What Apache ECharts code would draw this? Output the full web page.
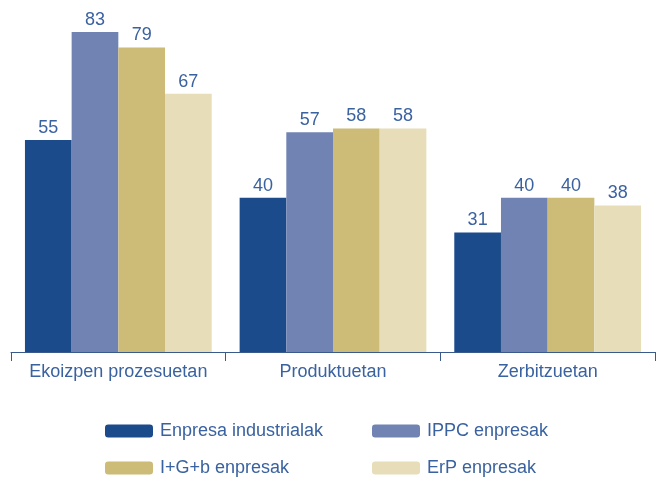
<!DOCTYPE html>
<html>
<head>
<meta charset="utf-8">
<script src="https://cdn.jsdelivr.net/npm/echarts@6/dist/echarts.min.js"></script>
<style>
  html, body { margin: 0; padding: 0; background: #fff; }
</style>
</head>
<body>
<div id="chart" style="width: 659px; height: 477px"></div>
<script>
// data
const categories = ["Ekoizpen prozesuetan", "Produktuetan", "Zerbitzuetan"];
const seriesNames = ["Enpresa industrialak", "IPPC enpresak", "I+G+b enpresak", "ErP enpresak"];
const industrialak = [55, 40, 31];
const ippc = [83, 57, 40];
const igb = [79, 58, 40];
const erp = [67, 58, 38];

const colors = ["#1b4b8b", "#7083b3", "#ccbc77", "#e7ddb9"];
const textColor = "#3a62a0";
const font = "Liberation Sans, Arial, sans-serif";

const values = [industrialak, ippc, igb, erp];

// one legend per item so the two columns line up
const legendPos = [
  { left: 105, top: 422 },
  { left: 372, top: 422 },
  { left: 105, top: 459 },
  { left: 372, top: 459 }
];

const option = {
  animation: false,
  color: colors,
  grid: { left: 11, right: 4, top: 32, bottom: 125, containLabel: false },
  legend: seriesNames.map((name, i) => ({
    data: [name],
    left: legendPos[i].left,
    top: legendPos[i].top,
    padding: 0,
    icon: "roundRect",
    itemWidth: 48,
    itemHeight: 13,
    itemGap: 0,
    textStyle: { color: textColor, fontSize: 18, fontFamily: font, padding: [0, 0, 0, 2] }
  })),
  xAxis: {
    type: "category",
    data: categories,
    axisLine: { lineStyle: { color: "#3a5a8e", width: 1 } },
    axisTick: { show: true, interval: 0, length: 9, inside: false, lineStyle: { color: "#3a5a8e" } },
    axisLabel: { interval: 0, hideOverlap: false, color: textColor, fontSize: 18, fontFamily: font, margin: 11 }
  },
  yAxis: {
    type: "value",
    min: 0,
    max: 83,
    show: false,
    splitLine: { show: false }
  },
  series: values.map((v, i) => ({
    name: seriesNames[i],
    type: "bar",
    data: v,
    barGap: "0%",
    barCategoryGap: "13%",
    label: {
      show: true,
      position: "top",
      distance: 3,
      color: textColor,
      fontSize: 18,
      fontFamily: font
    }
  }))
};

const myCharts = echarts.init(document.getElementById("chart"));
myCharts.setOption(option);
</script>
</body>
</html>
